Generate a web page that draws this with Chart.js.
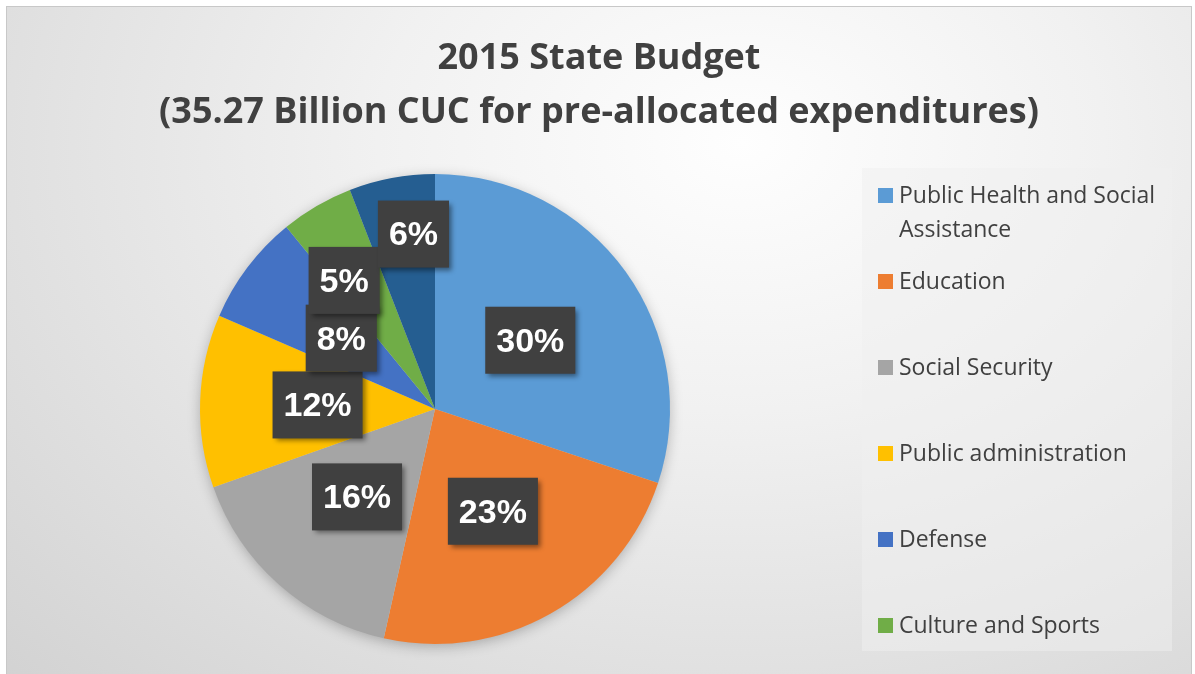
<!DOCTYPE html>
<html>
<head>
<meta charset="utf-8">
<title>2015 State Budget</title>
<script src="https://cdn.jsdelivr.net/npm/chart.js@4.4.1/dist/chart.umd.min.js"></script>
<style>
  html, body { margin: 0; padding: 0; background: #ffffff; }
  #frame {
    position: absolute; left: 6px; top: 6px; width: 1186px; height: 680px;
    box-sizing: border-box; border: 1px solid #c8c8c8;
    background: radial-gradient(ellipse farthest-corner at 62% 20%, #fefefe 0%, #f1f1f1 35%, #d2d2d2 100%);
  }
  #wrap { position: absolute; left: 0; top: 0; width: 1195px; height: 674px; }
</style>
</head>
<body>
<div id="frame"></div>
<div id="wrap"><canvas id="budget"></canvas></div>
<script>
// budget shares (%), clockwise from 12 o'clock
const categories = [
  'Public Health and Social Assistance',
  'Education',
  'Social Security',
  'Public administration',
  'Defense',
  'Culture and Sports',
  'Other'
];
const shares = [30.1, 23.4, 16.1, 11.9, 7.6, 5.0, 5.9];
const sliceColors = ['#5B9BD5', '#ED7D31', '#A5A5A5', '#FFC000', '#4472C4', '#70AD47', '#255E91'];
const titleLines = ['2015 State Budget', '(35.27 Billion CUC for pre-allocated expenditures)'];
const legendCount = 6; // the last slice has no legend entry

// two-line heading, drawn across the full width
const chartTitle = {
  id: 'chartTitle',
  afterDraw(chart, args, opts) {
    const ctx = chart.ctx;
    ctx.save();
    ctx.font = 'bold 36px "Open Sans", sans-serif';
    ctx.fillStyle = '#404040';
    ctx.textAlign = 'center';
    ctx.textBaseline = 'middle';
    opts.lines.forEach((t, i) => ctx.fillText(t, opts.x, opts.y + i * opts.lineH));
    ctx.restore();
  }
};

// soft shadow under the whole pie
const pieShadow = {
  id: 'pieShadow',
  beforeDatasetsDraw(chart) {
    const arc = chart.getDatasetMeta(0).data[0];
    if (!arc) return;
    const ctx = chart.ctx;
    ctx.save();
    ctx.shadowColor = 'rgba(0,0,0,0.28)';
    ctx.shadowBlur = 14;
    ctx.shadowOffsetY = 3;
    ctx.fillStyle = '#cccccc';
    ctx.beginPath();
    ctx.arc(arc.x, arc.y, arc.outerRadius - 1, 0, Math.PI * 2);
    ctx.fill();
    ctx.restore();
  }
};

// dark boxed percentage labels
const valueLabels = {
  id: 'valueLabels',
  afterDatasetsDraw(chart, args, opts) {
    const ctx = chart.ctx;
    const data = chart.data.datasets[0].data;
    const total = data.reduce((a, b) => a + b, 0);
    ctx.save();
    ctx.font = 'bold 34px "Liberation Sans", Arial, sans-serif';
    ctx.textAlign = 'center';
    ctx.textBaseline = 'middle';
    chart.getDatasetMeta(0).data.forEach((arc, i) => {
      const mid = (arc.startAngle + arc.endAngle) / 2 + (opts.shift[i] || 0) * Math.PI / 180;
      const r = arc.outerRadius * opts.radius[i];
      const x = arc.x + Math.cos(mid) * r;
      const y = arc.y + Math.sin(mid) * r;
      const text = Math.round(data[i] / total * 100) + '%';
      const w = ctx.measureText(text).width + 22;
      const h = 67;
      ctx.save();
      ctx.shadowColor = 'rgba(0,0,0,0.45)';
      ctx.shadowBlur = 5;
      ctx.shadowOffsetX = 3;
      ctx.shadowOffsetY = 3;
      ctx.fillStyle = '#404040';
      ctx.fillRect(x - w / 2, y - h / 2, w, h);
      ctx.restore();
      ctx.fillStyle = '#ffffff';
      ctx.fillText(text, x, y + 2);
    });
    ctx.restore();
  }
};

// legend panel on the right
const sideLegend = {
  id: 'sideLegend',
  afterDraw(chart, args, opts) {
    const ctx = chart.ctx;
    const colors = chart.data.datasets[0].backgroundColor;
    ctx.save();
    ctx.fillStyle = 'rgba(240,240,240,0.5)';
    ctx.fillRect(opts.left, opts.top, opts.width, opts.height);
    ctx.font = '23px "Open Sans", sans-serif';
    ctx.textBaseline = 'middle';
    ctx.textAlign = 'left';
    const maxW = opts.left + opts.width - opts.textX - 6;
    for (let i = 0; i < legendCount; i++) {
      const y = opts.firstY + i * opts.step;
      ctx.fillStyle = colors[i];
      ctx.fillRect(opts.boxX, y - 7, 15, 15);
      // word wrap
      const words = chart.data.labels[i].split(' ');
      const lines = [];
      let line = '';
      words.forEach(wd => {
        const t = line ? line + ' ' + wd : wd;
        if (ctx.measureText(t).width > maxW && line) { lines.push(line); line = wd; }
        else line = t;
      });
      lines.push(line);
      ctx.fillStyle = '#404040';
      lines.forEach((ln, k) => ctx.fillText(ln, opts.textX, y + 1 + k * opts.lineH));
    }
    ctx.restore();
  }
};

new Chart(document.getElementById('budget').getContext('2d'), {
  type: 'pie',
  data: {
    labels: categories,
    datasets: [{
      data: shares,
      backgroundColor: sliceColors,
      borderWidth: 0,
      hoverOffset: 0
    }]
  },
  plugins: [pieShadow, valueLabels, sideLegend, chartTitle],
  options: {
    responsive: true,
    maintainAspectRatio: false,
    animation: false,
    layout: { padding: { left: 200, right: 525, top: 174, bottom: 30 } },
    plugins: {
      legend: { display: false },
      tooltip: { enabled: false },
      title: { display: false },
      chartTitle: { lines: titleLines, x: 599, y: 59, lineH: 54 },
      valueLabels: {
        radius: [0.5, 0.5, 0.5, 0.5, 0.5, 0.67, 0.75],
        shift: [0, 0, 0, 0, 0, -5, 3.6]
      },
      sideLegend: {
        left: 862, top: 168, width: 310, height: 483,
        boxX: 878, textX: 899, firstY: 195, step: 86, lineH: 34
      }
    }
  }
});
</script>
</body>
</html>
